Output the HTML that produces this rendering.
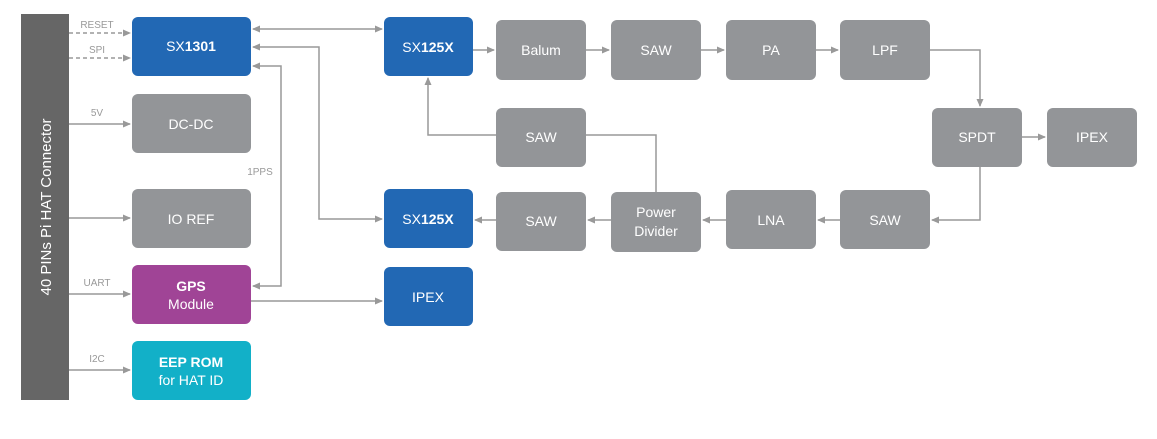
<!DOCTYPE html>
<html><head><meta charset="utf-8"><style>
html,body{margin:0;padding:0;background:#fff;}
</style></head><body>
<svg width="1157" height="434" viewBox="0 0 1157 434" xmlns="http://www.w3.org/2000/svg" font-family="Liberation Sans, sans-serif">
<defs>
<marker id="a" markerWidth="8" markerHeight="8" refX="7" refY="4" orient="auto-start-reverse" markerUnits="userSpaceOnUse">
<path d="M0,0.5 L8,4 L0,7.5 Z" fill="#999"/></marker>
</defs>
<rect x="21" y="14" width="48" height="386" fill="#666"/>
<text transform="translate(51,207) rotate(-90)" text-anchor="middle" font-size="15" fill="#fff">40 PINs Pi HAT Connector</text>

<g stroke="#999" stroke-width="1.5" fill="none">
<line x1="69" y1="33" x2="130" y2="33" stroke-dasharray="4,3" marker-end="url(#a)"/>
<line x1="69" y1="58" x2="130" y2="58" stroke-dasharray="4,3" marker-end="url(#a)"/>
<line x1="69" y1="124" x2="130" y2="124" marker-end="url(#a)"/>
<line x1="69" y1="218" x2="130" y2="218" marker-end="url(#a)"/>
<line x1="69" y1="294" x2="130" y2="294" marker-end="url(#a)"/>
<line x1="69" y1="370" x2="130" y2="370" marker-end="url(#a)"/>
<line x1="253" y1="29" x2="382" y2="29" marker-start="url(#a)" marker-end="url(#a)"/>
<polyline points="253,47 319,47 319,219 382,219" marker-start="url(#a)" marker-end="url(#a)"/>
<polyline points="253,66 281,66 281,286 253,286" marker-start="url(#a)" marker-end="url(#a)"/>
<line x1="251" y1="301" x2="382" y2="301" marker-end="url(#a)"/>
<line x1="473" y1="50" x2="494" y2="50" marker-end="url(#a)"/>
<line x1="586" y1="50" x2="609" y2="50" marker-end="url(#a)"/>
<line x1="701" y1="50" x2="724" y2="50" marker-end="url(#a)"/>
<line x1="816" y1="50" x2="838" y2="50" marker-end="url(#a)"/>
<polyline points="930,50 980,50 980,106" marker-end="url(#a)"/>
<line x1="1022" y1="137" x2="1045" y2="137" marker-end="url(#a)"/>
<polyline points="980,167 980,220 932,220" marker-end="url(#a)"/>
<line x1="840" y1="220" x2="818" y2="220" marker-end="url(#a)"/>
<line x1="726" y1="220" x2="703" y2="220" marker-end="url(#a)"/>
<line x1="611" y1="220" x2="588" y2="220" marker-end="url(#a)"/>
<line x1="496" y1="220" x2="475" y2="220" marker-end="url(#a)"/>
<polyline points="656,192 656,135 586,135"/>
<polyline points="496,135 428,135 428,78" marker-end="url(#a)"/>
</g>

<g font-size="10" fill="#999" text-anchor="middle">
<text x="97" y="28">RESET</text>
<text x="97" y="53">SPI</text>
<text x="97" y="116">5V</text>
<text x="97" y="286">UART</text>
<text x="97" y="362">I2C</text>
<text x="260" y="175">1PPS</text>
</g>

<g font-size="14" fill="#fff" text-anchor="middle">
<rect x="132" y="17" width="119" height="59" rx="6" fill="#2268b4"/>
<text x="191" y="51">SX<tspan font-weight="bold">1301</tspan></text>
<rect x="132" y="94" width="119" height="59" rx="6" fill="#939598"/>
<text x="191" y="129">DC-DC</text>
<rect x="132" y="189" width="119" height="59" rx="6" fill="#939598"/>
<text x="191" y="224">IO REF</text>
<rect x="132" y="265" width="119" height="59" rx="6" fill="#a04496"/>
<text x="191" y="291" font-weight="bold">GPS</text>
<text x="191" y="309">Module</text>
<rect x="132" y="341" width="119" height="59" rx="6" fill="#12b0c8"/>
<text x="191" y="367" font-weight="bold">EEP ROM</text>
<text x="191" y="385">for HAT ID</text>

<rect x="384" y="17" width="89" height="59" rx="6" fill="#2268b4"/>
<text x="428" y="52">SX<tspan font-weight="bold">125X</tspan></text>
<rect x="384" y="189" width="89" height="59" rx="6" fill="#2268b4"/>
<text x="428" y="224">SX<tspan font-weight="bold">125X</tspan></text>
<rect x="384" y="267" width="89" height="59" rx="6" fill="#2268b4"/>
<text x="428" y="302">IPEX</text>

<g fill="#939598">
<rect x="496" y="20" width="90" height="60" rx="6"/>
<rect x="611" y="20" width="90" height="60" rx="6"/>
<rect x="726" y="20" width="90" height="60" rx="6"/>
<rect x="840" y="20" width="90" height="60" rx="6"/>
<rect x="496" y="108" width="90" height="59" rx="6"/>
<rect x="932" y="108" width="90" height="59" rx="6"/>
<rect x="1047" y="108" width="90" height="59" rx="6"/>
<rect x="496" y="192" width="90" height="59" rx="6"/>
<rect x="611" y="192" width="90" height="60" rx="6"/>
<rect x="726" y="190" width="90" height="59" rx="6"/>
<rect x="840" y="190" width="90" height="59" rx="6"/>
</g>
<text x="541" y="55">Balum</text>
<text x="656" y="55">SAW</text>
<text x="771" y="55">PA</text>
<text x="885" y="55">LPF</text>
<text x="541" y="142">SAW</text>
<text x="977" y="142">SPDT</text>
<text x="1092" y="142">IPEX</text>
<text x="541" y="226">SAW</text>
<text x="656" y="217">Power</text>
<text x="656" y="236">Divider</text>
<text x="771" y="225">LNA</text>
<text x="885" y="225">SAW</text>
</g>
</svg>
</body></html>
